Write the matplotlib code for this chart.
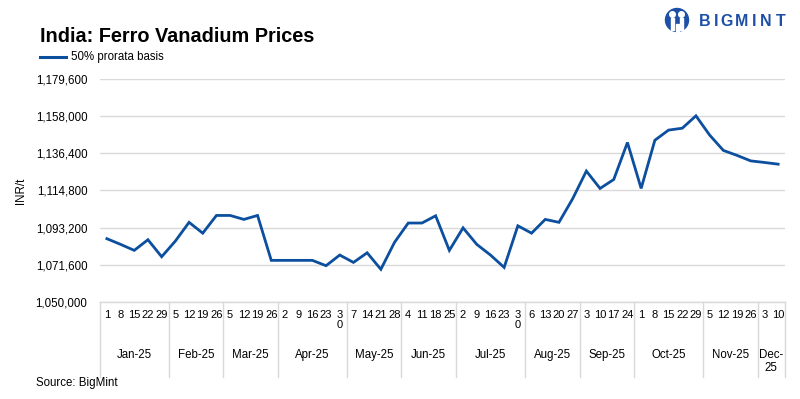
import matplotlib
matplotlib.use("Agg")
import matplotlib.pyplot as plt
from matplotlib.patches import Circle, Rectangle
from matplotlib.transforms import blended_transform_factory

plt.rcParams['font.family'] = ['Liberation Sans', 'DejaVu Sans']

# ---------------- data ----------------
months = ["Jan-25", "Feb-25", "Mar-25", "Apr-25", "May-25", "Jun-25",
          "Jul-25", "Aug-25", "Sep-25", "Oct-25", "Nov-25", "Dec-\n25"]
days = [
    [1, 8, 15, 22, 29],
    [5, 12, 19, 26],
    [5, 12, 19, 26],
    [2, 9, 16, 23, 30],
    [7, 14, 21, 28],
    [4, 11, 18, 25],
    [2, 9, 16, 23, 30],
    [6, 13, 20, 27],
    [3, 10, 17, 24],
    [1, 8, 15, 22, 29],
    [5, 12, 19, 26],
    [3, 10],
]
prices = [
    1086800, 1083500, 1080000, 1086200, 1076300,
    1085400, 1096300, 1090000, 1100300,
    1100300, 1098000, 1100300, 1074200,
    1074200, 1074200, 1074200, 1071100, 1077300,
    1073000, 1078600, 1069000, 1084700,
    1095900, 1095900, 1100100, 1080000,
    1093100, 1083500, 1077300, 1070100, 1094300,
    1090000, 1098000, 1096300, 1110000,
    1126100, 1116000, 1121200, 1142700,
    1116000, 1144000, 1149900, 1151000, 1158200,
    1147000, 1138100, 1135200, 1132000,
    1131100, 1130100,
]
yticks = [1050000, 1071600, 1093200, 1114800, 1136400, 1158000, 1179600]
series_name = "50% prorata basis"
title = "India: Ferro Vanadium Prices"
ylabel = "INR/t"
source = "Source: BigMint"

# ---------------- figure ----------------
W, H = 800, 399
fig = plt.figure(figsize=(W / 100, H / 100), dpi=100)
L, R, T, B = 100, 785, 79, 302
ax = fig.add_axes([L / W, 1 - B / H, (R - L) / W, (B - T) / H])

line_color = "#0b4f9e"
grid_color = "#d9d9d9"
text_color = "#000000"

n = len(prices)
x = list(range(n))
ax.plot(x, prices, color=line_color, lw=2.0, solid_joinstyle="miter", zorder=3)

ax.set_xlim(-0.5, n - 0.5)
ax.set_ylim(yticks[0], yticks[-1])
ax.set_yticks(yticks)
ax.set_yticklabels([f"{v:,}" for v in yticks], fontsize=8.3, color=text_color)
ax.tick_params(axis="y", length=0, pad=9)
ax.set_xticks([])
ax.grid(axis="y", color=grid_color, lw=1)
for s in ["top", "right", "left"]:
    ax.spines[s].set_visible(False)
ax.spines["bottom"].set_color(grid_color)
ax.spines["bottom"].set_linewidth(1)

ax.set_ylabel(ylabel, fontsize=8.3)
ax.yaxis.set_label_coords(-0.1066, 0.5)

# multi-level x labels
trans = blended_transform_factory(ax.transData, ax.transAxes)
ah = B - T
def ay(py):
    return -(py - B) / ah

idx = 0
bounds = [-0.5]
for m, dl in zip(months, days):
    start = idx
    for d in dl:
        lab = str(d)
        if d == 30:
            lab = "3\n0"
        ax.text(idx, ay(310), lab, transform=trans, ha="center", va="top",
                fontsize=8, color=text_color, linespacing=1.0, clip_on=False)
        idx += 1
    center = (start + idx - 1) / 2
    ax.text(center, ay(349), m, transform=trans, ha="center", va="top",
            fontsize=8.3, color=text_color, linespacing=1.1, clip_on=False)
    bounds.append(idx - 0.5)

for b in bounds:
    ax.plot([b, b], [0, ay(377)], transform=trans, color=grid_color, lw=1,
            clip_on=False, zorder=1)

# title, legend
def fx(px):
    return px / W
def fy(py):
    return 1 - py / H

fig.text(fx(40), fy(36), title, fontsize=14.3, fontweight="bold",
         ha="left", va="center", color=text_color)
fig.add_artist(plt.Line2D([fx(40), fx(66)], [fy(57), fy(57)], color=line_color, lw=2.2))
fig.text(fx(71), fy(57), series_name, fontsize=8.3, ha="left", va="center", color=text_color)
fig.text(fx(36), fy(383), source, fontsize=8.3, ha="left", va="center", color=text_color)

# logo (pixel positions converted to inches)
logo_color = "#1d4fa6"
tin = fig.dpi_scale_trans
def ix(px):
    return px / 100
def iy(py):
    return (H - py) / 100
fig.add_artist(Circle((ix(677), iy(20)), 0.115, transform=tin, color=logo_color))
fig.add_artist(Circle((ix(672.5), iy(14.5)), 0.028, transform=tin, color="white"))
fig.add_artist(Circle((ix(681.5), iy(14.5)), 0.028, transform=tin, color="white"))
fig.add_artist(Rectangle((ix(671), iy(30)), 0.03, 0.12, transform=tin, color="white"))
fig.add_artist(Rectangle((ix(680), iy(30)), 0.03, 0.12, transform=tin, color="white"))
fig.add_artist(Rectangle((ix(675.5), iy(33)), 0.03, 0.09, transform=tin, color="white"))
letters = ["B", "I", "G", "M", "I", "N", "T"]
lx = [705, 716, 727, 742, 754.5, 766, 781]
for ch, px in zip(letters, lx):
    fig.text(fx(px), fy(21), ch, fontsize=11.5, fontweight="bold", color=logo_color,
             ha="center", va="center")

fig.savefig("out.png", dpi=100)
